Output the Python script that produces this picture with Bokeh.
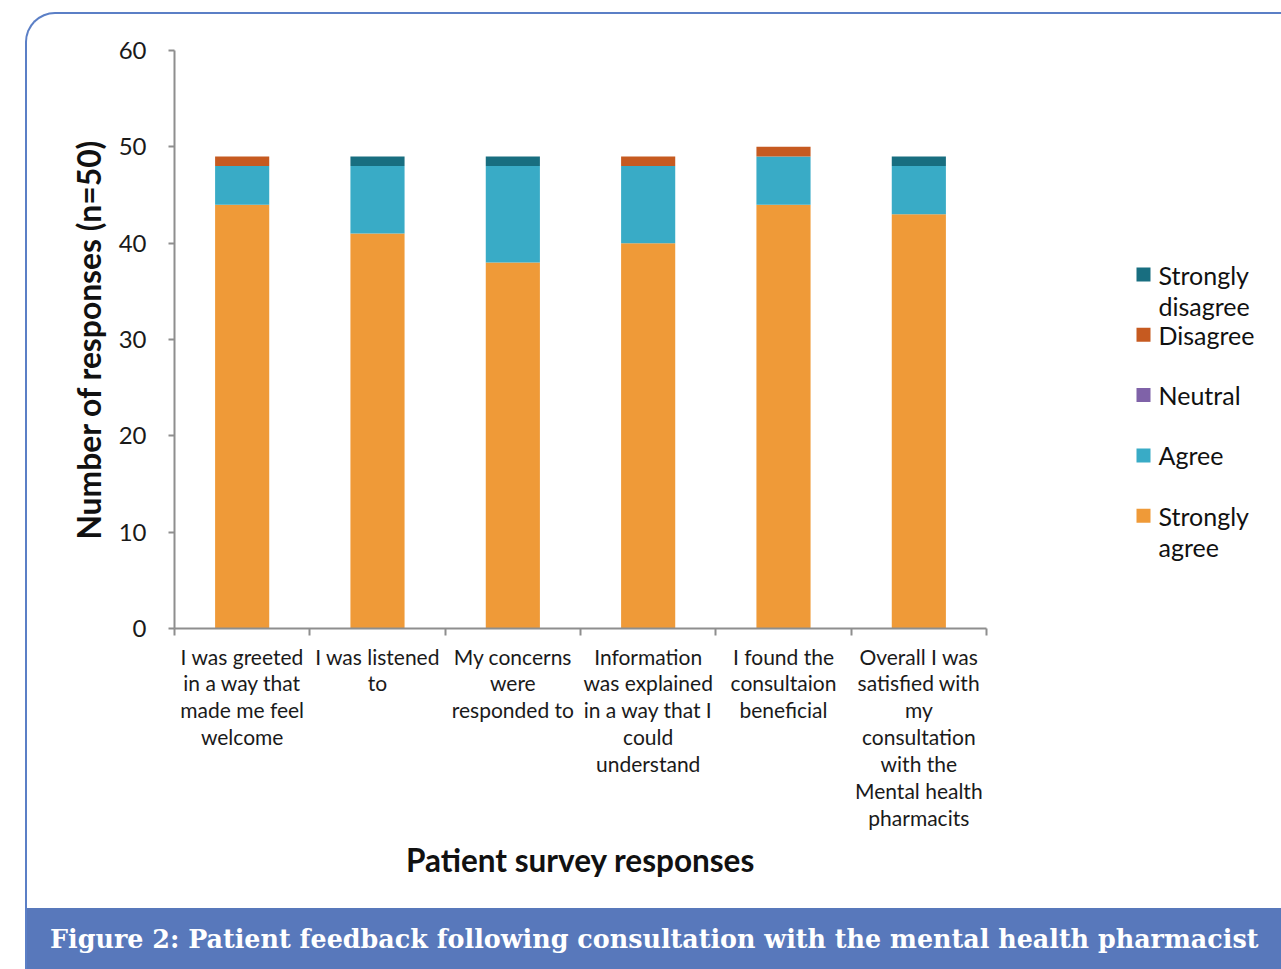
from bokeh.plotting import figure
from bokeh.models import (ColumnDataSource, Range1d, LinearAxis, FixedTicker, Div)
from bokeh.layouts import column, row
from bokeh.core.properties import value
from bokeh.embed import file_html
from bokeh.resources import INLINE

# Survey statements (x categories)
statements = [
    "I was greeted\nin a way that\nmade me feel\nwelcome",
    "I was listened\nto",
    "My concerns\nwere\nresponded to",
    "Information\nwas explained\nin a way that I\ncould\nunderstand",
    "I found the\nconsultaion\nbeneficial",
    "Overall I was\nsatisfied with\nmy\nconsultation\nwith the\nMental health\npharmacits",
]

# Response counts per statement (n=50)
strongly_agree = [44, 41, 38, 40, 44, 43]
agree = [4, 7, 10, 8, 5, 5]
neutral = [0, 0, 0, 0, 0, 0]
disagree = [1, 0, 0, 1, 1, 0]
strongly_disagree = [0, 1, 1, 0, 0, 1]

series_keys = ["strongly_agree", "agree", "neutral", "disagree", "strongly_disagree"]
series_names = ["Strongly\nagree", "Agree", "Neutral", "Disagree", "Strongly\ndisagree"]
series_colors = ["#ef9a38", "#39abc6", "#7f62a8", "#c65a20", "#186e80"]

y_ticks = [0, 10, 20, 30, 40, 50, 60]

caption = "Figure 2: Patient feedback following consultation with the mental health pharmacist"

FONT = "Lato"
FRAME_COLOR = "#5b7fc6"

# ---- main chart -------------------------------------------------------------
MAIN_W, MAIN_H = 1093, 894
TOP_B, BOT_B = 36, 280
centers = [i + 0.5 for i in range(len(statements))]
source = ColumnDataSource(dict(
    x=centers,
    strongly_agree=strongly_agree,
    agree=agree,
    neutral=neutral,
    disagree=disagree,
    strongly_disagree=strongly_disagree,
))

p = figure(width=MAIN_W, height=MAIN_H, output_backend="svg", toolbar_location=None,
           x_range=Range1d(0, len(statements)), y_range=Range1d(0, 60),
           x_axis_type=None, y_axis_type=None,
           min_border_left=147, min_border_right=134,
           min_border_top=TOP_B, min_border_bottom=BOT_B)
p.outline_line_color = None
p.border_fill_alpha = 0
p.xgrid.visible = False
p.ygrid.visible = False

bars = p.vbar_stack(series_keys, x="x", width=0.4, source=source,
                    fill_color=series_colors, line_color=None)

AXIS_GREY = "#8e8e8e"

yaxis = LinearAxis(ticker=FixedTicker(ticks=y_ticks, minor_ticks=[]))
yaxis.axis_line_color = AXIS_GREY
yaxis.axis_line_width = 2
yaxis.major_tick_line_color = AXIS_GREY
yaxis.major_tick_line_width = 2
yaxis.major_tick_in = 0
yaxis.major_tick_out = 6
yaxis.major_label_standoff = 22
yaxis.major_label_text_font = FONT
yaxis.major_label_text_font_size = "24px"
yaxis.major_label_text_color = "#1a1a1a"
yaxis.axis_label = "Number of responses (n=50)"
yaxis.axis_label_text_font = FONT
yaxis.axis_label_text_font_style = "bold"
yaxis.axis_label_text_font_size = "31.8px"
yaxis.axis_label_text_color = "#111111"
yaxis.axis_label_standoff = 8
p.add_layout(yaxis, "left")

xaxis = LinearAxis(ticker=FixedTicker(ticks=centers,
                                      minor_ticks=list(range(len(statements) + 1))))
xaxis.major_label_overrides = {c: s for c, s in zip(centers, statements)}
xaxis.axis_line_color = AXIS_GREY
xaxis.axis_line_width = 2
xaxis.major_tick_line_color = None
xaxis.major_tick_in = 0
xaxis.major_tick_out = 0
xaxis.minor_tick_line_color = AXIS_GREY
xaxis.minor_tick_line_width = 2
xaxis.minor_tick_in = 0
xaxis.minor_tick_out = 7
xaxis.major_label_standoff = 8
xaxis.major_label_text_font = FONT
xaxis.major_label_text_font_size = "21px"
xaxis.major_label_text_line_height = 1.076
xaxis.major_label_text_color = "#1a1a1a"
xaxis.axis_label = "Patient survey responses"
xaxis.axis_label_text_font = FONT
xaxis.axis_label_text_font_style = "bold"
xaxis.axis_label_text_font_size = "31.5px"
xaxis.axis_label_text_color = "#111111"
xaxis.axis_label_standoff = 8
p.add_layout(xaxis, "below")

# ---- legend panel -----------------------------------------------------------
# Same vertical borders as the chart, so both frames line up; the y range is
# expressed in page pixels (growing downward) for easy placement.
PAGE_TOP = 14
LEG_W = 161
leg = figure(width=LEG_W, height=MAIN_H, output_backend="svg", toolbar_location=None,
             x_range=Range1d(0, LEG_W),
             y_range=Range1d(PAGE_TOP + MAIN_H - BOT_B, PAGE_TOP + TOP_B),
             x_axis_type=None, y_axis_type=None,
             min_border_left=0, min_border_right=0,
             min_border_top=TOP_B, min_border_bottom=BOT_B)
leg.outline_line_color = None
leg.border_fill_alpha = 0
leg.background_fill_alpha = 0
leg.xgrid.visible = False
leg.ygrid.visible = False

order = list(reversed(range(len(series_keys))))   # Strongly disagree on top
LEG_TOP, LEG_STEP, SQ = 267, 60.3, 14
tops = [LEG_TOP + i * LEG_STEP for i in range(len(order))]
leg_src = ColumnDataSource(dict(
    top=tops,
    bottom=[t + SQ for t in tops],
    text_y=[t - 8 for t in tops],
    color=[series_colors[k] for k in order],
    name=[series_names[k] for k in order],
))
leg.quad(left=16, right=16 + SQ, top="top", bottom="bottom", source=leg_src,
         fill_color="color", line_color=None)
leg.text(x=38, y="text_y", text="name", source=leg_src,
         text_font=value(FONT), text_font_size=value("25px"), text_line_height=1.05,
         text_baseline="top", text_align="left", text_color="#111111")

# ---- caption bar ------------------------------------------------------------
cap = Div(text=f'<div style="font-family:\'DejaVu Serif\';font-weight:bold;'
               f'font-size:25.4px;color:white;white-space:nowrap;line-height:63px;'
               f'padding-left:23px;">{caption}</div>',
          width=MAIN_W + LEG_W, height=61, margin=0,
          styles={"background-color": "#5878bb", "overflow": "hidden"})

page = column(row(p, leg, spacing=0), cap, spacing=0,
              margin=(12, 0, 0, 25),
              styles={"border-top": f"2px solid {FRAME_COLOR}",
                      "border-left": f"2px solid {FRAME_COLOR}",
                      "border-top-left-radius": "30px"})

open("out.html", "w").write(file_html(page, INLINE))
